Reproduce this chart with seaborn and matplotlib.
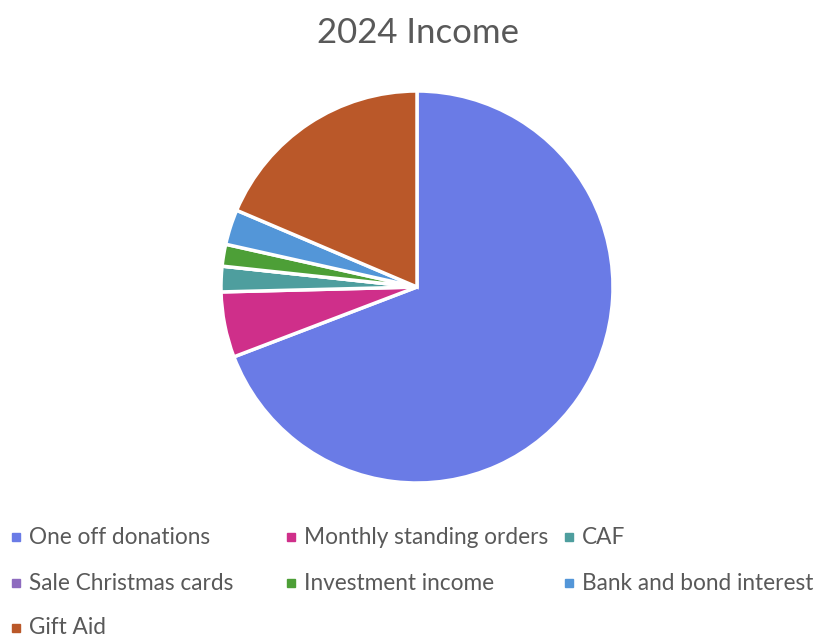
import matplotlib
matplotlib.use("Agg")
import matplotlib.pyplot as plt
from matplotlib.patches import Rectangle
import seaborn as sns

# data (shares of 2024 income, %)
categories = ["One off donations", "Monthly standing orders", "CAF",
              "Sale Christmas cards", "Investment income",
              "Bank and bond interest", "Gift Aid"]
shares = [69.2, 5.4, 2.1, 0.0, 1.8, 2.9, 18.6]
colors = ["#6A7BE6", "#CF2F8A", "#4E9E9E", "#8E6BBF",
          "#4D9F37", "#5396D8", "#BA5829"]

sns.set_theme(style="white")
plt.rcParams["font.family"] = ["Lato", "DejaVu Sans"]
TEXT = "#595959"

W, H = 821, 637
fig = plt.figure(figsize=(W / 100, H / 100), dpi=100)

# pie: center (417, 287) px, radius 196 px
cx, cy, r = 417, 287, 196
ax = fig.add_axes([(cx - r) / W, (H - cy - r) / H, 2 * r / W, 2 * r / H])
ax.pie(shares, colors=colors, startangle=90, counterclock=False,
       wedgeprops=dict(edgecolor="white", linewidth=2.5, clip_on=False))
ax.set_xlim(-1, 1)
ax.set_ylim(-1, 1)
ax.set_aspect("equal")
ax.axis("off")

fig.text(418 / W, 1 - 33 / H, "2024 Income", ha="center", va="center",
         fontsize=25, color=TEXT)

# legend, row-major, three columns
col_x = [12, 287, 565]
row_y = [537, 583, 628]
for i, (lab, col) in enumerate(zip(categories, colors)):
    row, c = divmod(i, 3)
    x, y = col_x[c], row_y[row]
    fig.patches.append(Rectangle((x / W, (H - y - 4) / H), 8 / W, 8 / H,
                                 transform=fig.transFigure, color=col))
    fig.text((x + 17) / W, 1 - y / H, lab, ha="left", va="center",
             fontsize=16.3, color=TEXT)

fig.savefig("out.png", dpi=100, facecolor="white")
